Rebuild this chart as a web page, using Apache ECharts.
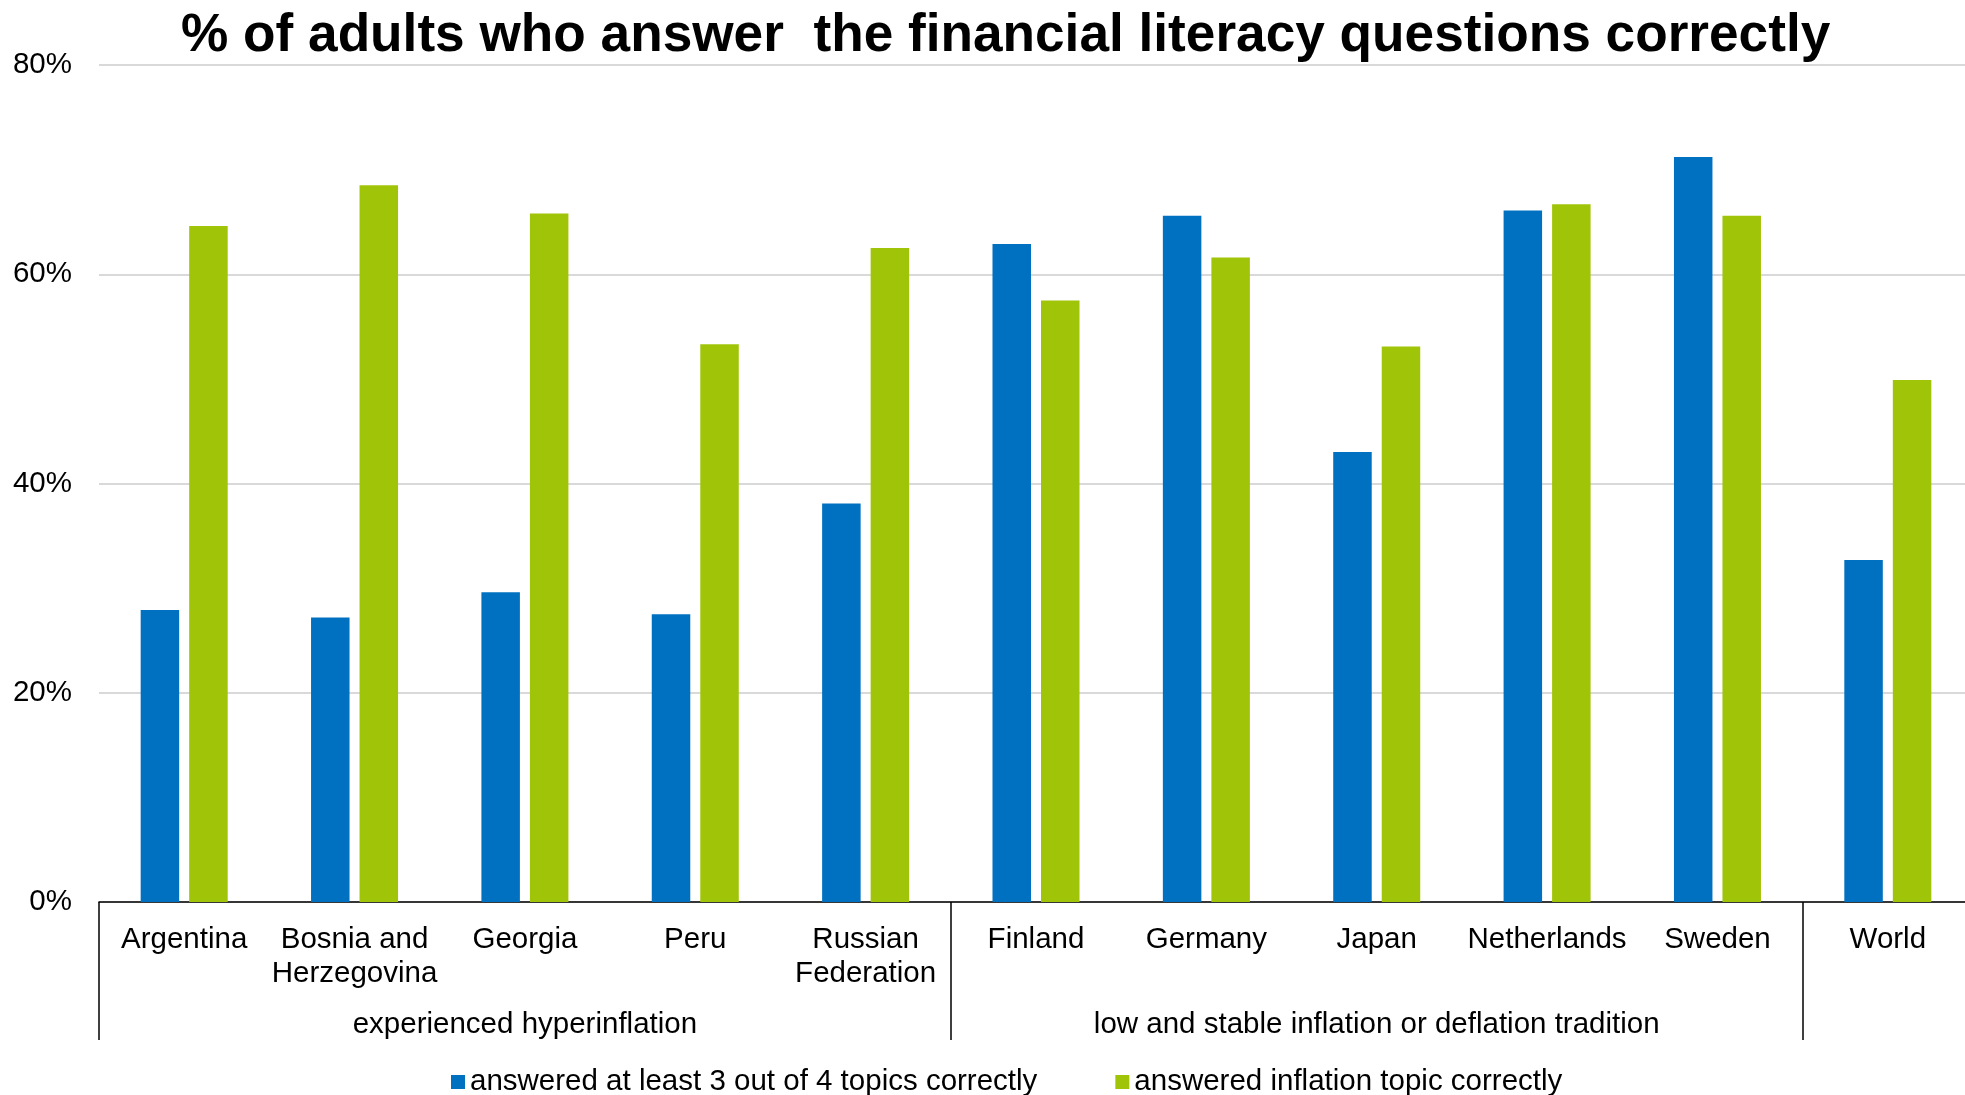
<!DOCTYPE html>
<html>
<head>
<meta charset="utf-8">
<script src="https://cdn.jsdelivr.net/npm/echarts@6/dist/echarts.min.js"></script>
<style>
  html, body { margin: 0; padding: 0; background: #ffffff; }
  #chart { width: 1965px; height: 1095px; }
</style>
</head>
<body>
<div id="chart"></div>
<script>
// Countries along the x axis
const countries = ['Argentina', 'Bosnia and\nHerzegovina', 'Georgia', 'Peru', 'Russian\nFederation',
  'Finland', 'Germany', 'Japan', 'Netherlands', 'Sweden', 'World'];
// Group captions, placed under the middle country of each group
const groupLabels = ['', '', 'experienced hyperinflation', '', '',
  '', '', 'low and stable inflation or deflation tradition', '', '', ''];
// Indices where a group starts (separator lines)
const groupStarts = [0, 5, 10];

// Share of adults (%)
const atLeast3of4 = [27.9, 27.2, 29.6, 27.5, 38.1, 62.9, 65.6, 43.0, 66.1, 71.2, 32.7];
const inflationTopic = [64.6, 68.5, 65.8, 53.3, 62.5, 57.5, 61.6, 53.1, 66.7, 65.6, 49.9];

const seriesNames = ['answered at least 3 out of 4 topics correctly', 'answered inflation topic correctly'];
const yTicks = { min: 0, max: 80, interval: 20 };

const FONT = '"Liberation Sans", Arial, sans-serif';
const FS = 29.5;

const chart = echarts.init(document.getElementById('chart'));
chart.setOption({
  animation: false,
  backgroundColor: '#ffffff',
  textStyle: { fontFamily: FONT },
  title: {
    text: '% of adults who answer  the financial literacy questions correctly',
    left: 176,
    top: 5,
    textStyle: { fontFamily: FONT, fontWeight: 'bold', fontSize: 53.2, color: '#000' }
  },
  // plot area runs slightly past the right edge of the canvas
  grid: { left: 99, width: 1874, top: 65, bottom: 193, containLabel: false, outerBoundsMode: 'none' },
  legend: {
    data: seriesNames,
    left: 446,
    top: 1062,
    icon: 'rect',
    itemWidth: 14,
    itemHeight: 14,
    itemGap: 78,
    textStyle: { fontFamily: FONT, fontSize: FS, color: '#000' }
  },
  xAxis: [
    {
      type: 'category',
      data: countries,
      position: 'bottom',
      axisLine: { show: true, lineStyle: { color: '#000', width: 1.5 } },
      axisTick: {
        show: true,
        length: 138,
        interval: (i) => groupStarts.includes(i),
        lineStyle: { color: '#000', width: 1.5 }
      },
      axisLabel: {
        interval: 0,
        margin: 21,
        fontFamily: FONT,
        fontSize: FS,
        lineHeight: 34,
        color: '#000'
      }
    },
    {
      type: 'category',
      data: groupLabels,
      position: 'bottom',
      axisLine: { show: false },
      axisTick: { show: false },
      axisLabel: {
        interval: 0,
        margin: 106,
        fontFamily: FONT,
        fontSize: FS,
        lineHeight: 34,
        color: '#000'
      }
    }
  ],
  yAxis: {
    type: 'value',
    min: yTicks.min,
    max: yTicks.max,
    interval: yTicks.interval,
    axisLine: { show: false },
    axisTick: { show: false },
    axisLabel: {
      formatter: '{value}%',
      margin: 27,
      fontFamily: FONT,
      fontSize: FS,
      color: '#000'
    },
    splitLine: { lineStyle: { color: '#d9d9d9', width: 2 } }
  },
  series: [
    {
      name: seriesNames[0],
      type: 'bar',
      xAxisIndex: 0,
      data: atLeast3of4,
      barWidth: 38.5,
      barGap: '26%',
      itemStyle: { color: '#0070c0' }
    },
    {
      name: seriesNames[1],
      type: 'bar',
      xAxisIndex: 0,
      data: inflationTopic,
      barWidth: 38.5,
      barGap: '26%',
      itemStyle: { color: '#a0c408' }
    }
  ]
});
</script>
</body>
</html>
